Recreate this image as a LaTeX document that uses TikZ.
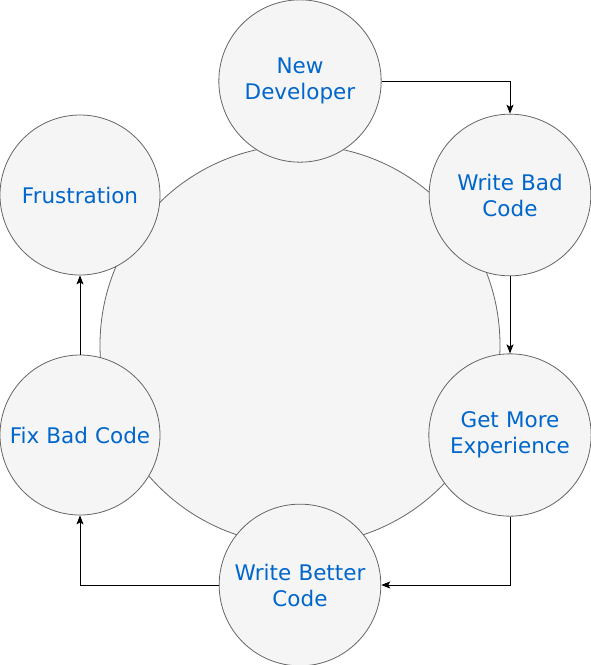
\documentclass[tikz,border=0pt]{standalone}
\usepackage{fontspec}
\setmainfont{DejaVu Sans}
\usepackage{tikz}
\usetikzlibrary{arrows.meta, positioning}

\definecolor{cyclefill}{HTML}{F5F5F5}
\definecolor{cycleline}{HTML}{666666}
\definecolor{cycletext}{HTML}{0066CC}

\begin{document}
\begin{tikzpicture}[
        x=1pt, y=-1pt,
        stage/.style={
            circle, draw=cycleline, fill=cyclefill, line width=0.8pt,
            minimum size=160pt, inner sep=0pt, text width=156pt, align=center,
            text=cycletext, font=\fontsize{21.5}{26}\selectfont
        },
        hub/.style={circle, draw=cycleline, fill=cyclefill, line width=0.8pt, minimum size=400pt, inner sep=0pt},
        arrow/.style={-{Stealth[length=9pt, width=7pt, inset=2pt]}, line width=0.9pt, black}
    ]
        \useasboundingbox (0,0) rectangle (591,665);

        % Background circle
        \node[hub] (hub) at (300,345) {};

        % Stages of the cycle
        \node[stage] (new) at (300,81) {New\\Developer};
        \node[stage] (bad) at (510,195) {Write Bad\\Code};
        \node[stage] (exp) at (510,435) {Get More\\Experience};
        \node[stage] (better) at (300,585) {Write Better\\Code};
        \node[stage] (fix) at (80,435) {Fix Bad Code};
        \node[stage] (frus) at (80,195) {Frustration};

        % Connectors
        \draw[arrow] (new.east) -| (bad.north);
        \draw[arrow] (bad.south) -- (exp.north);
        \draw[arrow] (exp.south) |- (better.east);
        \draw[arrow] (better.west) -| (fix.south);
        \draw[arrow] (fix.north) -- (frus.south);

    \end{tikzpicture}
\end{document}
